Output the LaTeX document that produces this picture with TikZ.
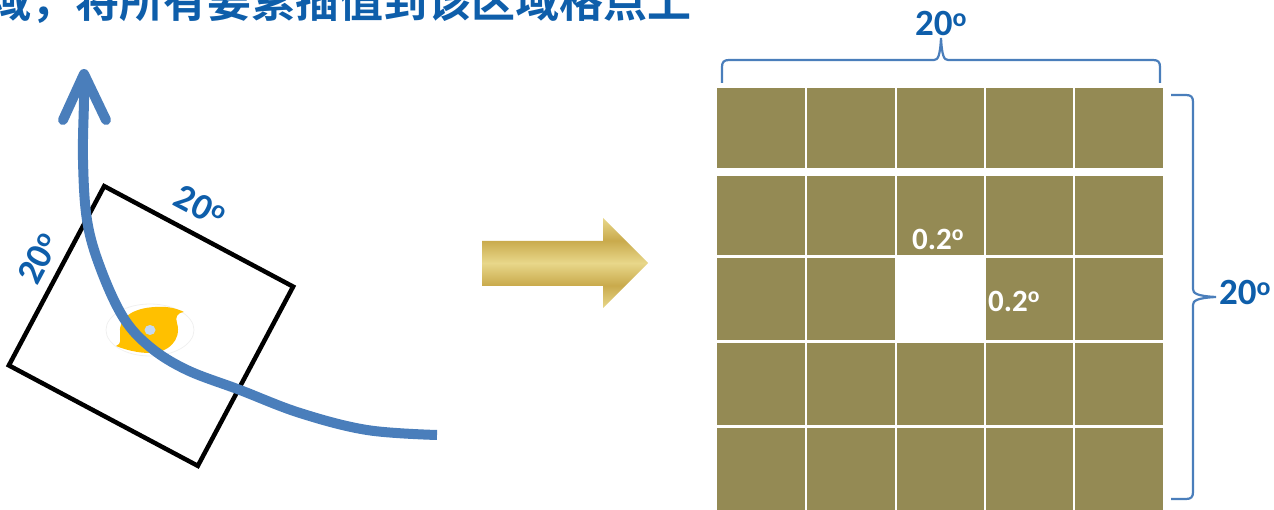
\documentclass[tikz,border=0pt]{standalone}
\usepackage{fontspec}
\setmainfont{Carlito}
\newfontfamily\cjk{Noto Sans CJK SC}[BoldFont={Noto Sans CJK SC Bold}]
\usetikzlibrary{calc}

\definecolor{trackblue}{RGB}{74,126,187}
\definecolor{labelblue}{RGB}{14,94,170}
\definecolor{cellolive}{RGB}{148,138,84}
\definecolor{goldlight}{RGB}{232,215,138}
\definecolor{golddark}{RGB}{201,170,76}
\definecolor{eyeyellow}{RGB}{255,192,0}
\definecolor{eyeblue}{RGB}{197,217,241}

% gold bands for the block arrow (central 25bp..75bp span the path)
\pgfdeclareverticalshading{goldbar}{100bp}{color(0bp)=(goldlight); color(25bp)=(goldlight); color(37.5bp)=(golddark); color(50bp)=(goldlight); color(62.5bp)=(golddark); color(75bp)=(goldlight); color(100bp)=(goldlight)}

\newcommand\dg{\textsuperscript{o}}

\begin{document}
\begin{tikzpicture}[x=1pt,y=-1pt,
  lbl/.style={text=labelblue, font=\bfseries\fontsize{37}{37}\selectfont, inner sep=0pt},
  cellnum/.style={text=white, font=\bfseries\fontsize{31}{31}\selectfont, inner sep=0pt},
  track/.style={draw=trackblue, line width=10pt},
  brace/.style={draw=trackblue, line width=2.2pt},
  window/.style={draw=black, line width=4.5pt, inner sep=0pt, minimum width=214pt, minimum height=203pt}]
\useasboundingbox (0,0) rectangle (1274,510);

% heading line
\node[anchor=base east, inner sep=0pt, text=labelblue,
      font=\cjk\bfseries\fontsize{44}{44}\selectfont] (title) at (692,17.5)
      {域，将所有要素插值到该区域格点上};

% rotated 20 x 20 degree window
\node[window, rotate=-28] (win) at (151,326) {};
\node[lbl, rotate=-28, anchor=base] (winTop) at (194.6,216.9) {20\dg};
\node[lbl, rotate=62, anchor=base] (winLeft) at (49.2,263.7) {20\dg};

% typhoon symbol
\coordinate (eye) at (150,330);
\draw[black!6, line width=0.8pt] (eye) ellipse [x radius=44, y radius=26];
\fill[eyeyellow] (120,332) .. controls (119,317) and (134,308) .. (155,307)
   .. controls (166,306) and (176,308) .. (184,312)
   .. controls (177,313) and (175,317) .. (177,323)
   .. controls (182,340) and (168,353) .. (150,353)
   .. controls (138,353) and (126,350) .. (116,346)
   .. controls (122,344) and (120,339) .. (120,332) -- cycle;
\fill[eyeblue] (eye) ellipse [x radius=5.5, y radius=5];

% storm track with arrow head
\coordinate (tip) at (84,74);
\draw[track] plot[smooth, tension=0.6] coordinates {(437,435) (367,430) (300,413) (240,390) (187,370) (150,347) (123,317) (100,267) (87,220) (83,160) (84,100) (tip)};
\draw[track, line cap=round, line join=round] (63,120) -- (tip) -- (106,120);

% block arrow
\shade[shading=goldbar] (482,241) -- (603,241) -- (603,218) -- (648,263)
   -- (603,308) -- (603,286) -- (482,286) -- cycle;

% 5 x 5 grid of cells, centre cell left empty
\foreach \r/\tp/\bt in {1/88/168, 2/176/255, 3/258/340, 4/343/425, 5/428/512}
  \foreach \c/\lf/\rt in {1/717/805, 2/807/895, 3/897/984, 4/986/1073, 5/1075/1163}
  {
    \ifnum\r\c=33 \else
      \fill[cellolive] (\lf,\tp) rectangle (\rt,\bt);
    \fi
  }
\node[cellnum, anchor=base] (dlat) at (938,250) {0.2\dg};
\node[cellnum, anchor=base] (dlon) at (1014,312) {0.2\dg};

% braces with extents
\draw[brace] (722,83) -- (722,67) .. controls (722,62) and (724,60) .. (729,60)
   -- (934,60) .. controls (938,60) and (940,56) .. (941,38)
   .. controls (942,56) and (944,60) .. (948,60)
   -- (1153,60) .. controls (1158,60) and (1160,62) .. (1160,67) -- (1160,83);
\node[lbl, anchor=base] (topExt) at (941,36) {20\dg};

\draw[brace] (1171,95) -- (1186,95) .. controls (1191,95) and (1193,97) .. (1193,102)
   -- (1193,289) .. controls (1193,293) and (1196,296) .. (1216,297)
   .. controls (1196,298) and (1193,301) .. (1193,305)
   -- (1193,492) .. controls (1193,497) and (1191,499) .. (1186,499) -- (1171,499);
\node[lbl, anchor=base west] (sideExt) at (1219,305) {20\dg};
\end{tikzpicture}
\end{document}
